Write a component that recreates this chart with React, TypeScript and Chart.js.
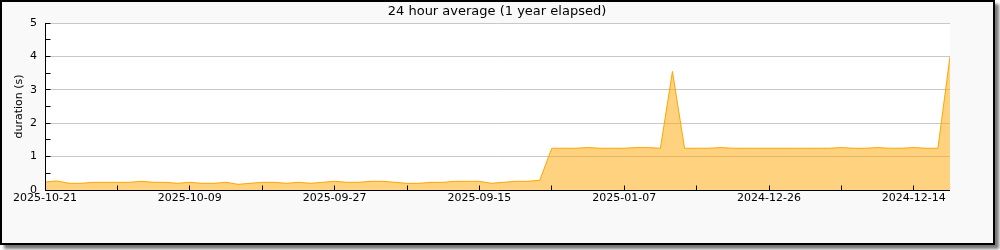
import React, { useEffect, useRef } from 'react';
import { Chart, registerables } from 'chart.js';

Chart.register(...registerables);

const chartTitle = '24 hour average (1 year elapsed)';
const yAxisTitle = 'duration (s)';
const xTickLabels = ['2025-10-21', '2025-10-09', '2025-09-27', '2025-09-15', '2025-01-07', '2024-12-26', '2024-12-14'];
const xLabelEvery = 12;
const xTickEvery = 6;
const yTickValues = [0, 1, 2, 3, 4, 5];

// one value per day, left to right
const durations = [
  0.24, 0.27, 0.2, 0.2, 0.23, 0.23, 0.23, 0.23, 0.26, 0.23,
  0.23, 0.2, 0.23, 0.2, 0.2, 0.23, 0.17, 0.2, 0.23, 0.23,
  0.2, 0.23, 0.2, 0.23, 0.26, 0.23, 0.23, 0.26, 0.26, 0.23,
  0.2, 0.2, 0.23, 0.23, 0.26, 0.26, 0.26, 0.2, 0.23, 0.26,
  0.26, 0.29, 1.25, 1.25, 1.25, 1.27, 1.25, 1.25, 1.25, 1.27,
  1.27, 1.25, 3.55, 1.25, 1.25, 1.25, 1.27, 1.25, 1.25, 1.25,
  1.25, 1.25, 1.25, 1.25, 1.25, 1.25, 1.27, 1.25, 1.25, 1.27,
  1.25, 1.25, 1.27, 1.25, 1.25, 4.0,
];

export default function App() {
  const ref = useRef<HTMLCanvasElement>(null);

  useEffect(() => {
    document.body.style.margin = '0';
    const canvas = ref.current!;
    const points = durations.map((y, i) => ({ x: i, y }));

    const framePlugin = {
      id: 'framePlugin',
      beforeDraw(chart: any) {
        const { ctx, chartArea: a } = chart;
        ctx.save();
        ctx.fillStyle = '#ffffff';
        ctx.fillRect(a.left, a.top, a.right - a.left, a.bottom - a.top);
        ctx.restore();
      },
      afterDatasetsDraw(chart: any) {
        const { ctx, chartArea: a } = chart;
        const xs = chart.scales.x;
        const ys = chart.scales.y;
        ctx.save();
        ctx.strokeStyle = '#000';
        ctx.lineWidth = 1;
        const lx = Math.floor(a.left) + 0.5;
        const by = Math.floor(a.bottom) + 0.5;
        ctx.beginPath();
        ctx.moveTo(lx, Math.floor(a.top));
        ctx.lineTo(lx, by);
        ctx.lineTo(Math.ceil(a.right), by);
        // y ticks (inward)
        ys.ticks.forEach((t: any) => {
          const py = Math.floor(ys.getPixelForValue(t.value)) + 0.5;
          ctx.moveTo(lx, py);
          ctx.lineTo(lx + 5, py);
        });
        // x ticks (inward)
        xs.ticks.forEach((t: any) => {
          if (t.value % xTickEvery !== 0) return;
          const px = Math.floor(xs.getPixelForValue(t.value)) + 0.5;
          ctx.moveTo(px, by);
          ctx.lineTo(px, by - 5);
        });
        ctx.stroke();
        // title
        ctx.fillStyle = '#000';
        ctx.font = '13px "DejaVu Sans"';
        ctx.textAlign = 'center';
        ctx.textBaseline = 'alphabetic';
        ctx.fillText(chartTitle, 497, 15);
        ctx.restore();
      },
    };

    const chart = new Chart(canvas, {
      type: 'line',
      data: {
        datasets: [
          {
            data: points,
            borderColor: '#ffa500',
            backgroundColor: 'rgba(255,165,0,0.5)',
            borderWidth: 1,
            pointRadius: 0,
            fill: 'origin',
            tension: 0,
          },
        ],
      },
      options: {
        animation: false,
        responsive: false,
        devicePixelRatio: 1,
        layout: { padding: { top: 23, right: 50, bottom: 0, left: 0 } },
        font: { family: '"DejaVu Sans"', size: 11 },
        plugins: {
          legend: { display: false },
          title: { display: false },
          tooltip: { enabled: false },
        },
        scales: {
          x: {
            type: 'linear',
            min: 0,
            max: durations.length - 1,
            grid: { display: false, drawTicks: false },
            border: { display: false },
            ticks: {
              stepSize: xTickEvery,
              autoSkip: false,
              maxRotation: 0,
              includeBounds: false,
              padding: 2,
              color: '#000',
              font: { family: '"DejaVu Sans"', size: 11 },
              callback: (v: any) => {
                const n = Number(v);
                return n % xLabelEvery === 0 ? xTickLabels[n / xLabelEvery] ?? '' : '';
              },
            },
            afterFit: (s: any) => {
              s.height = 60;
            },
          },
          y: {
            min: 0,
            max: 5,
            grid: {
              drawTicks: false,
              color: (c: any) => (yTickValues.includes(c.tick?.value) ? '#c8c8c8' : 'rgba(0,0,0,0)'),
            },
            border: { display: false },
            ticks: {
              stepSize: 0.5,
              autoSkip: false,
              padding: 8,
              color: '#000',
              font: { family: '"DejaVu Sans"', size: 11 },
              callback: (v: any) => (yTickValues.includes(Number(v)) ? String(v) : ''),
            },
            title: {
              display: true,
              text: yAxisTitle,
              color: '#000',
              padding: { top: 13, bottom: 0 },
              font: { family: '"DejaVu Sans"', size: 11 },
            },
            afterFit: (s: any) => {
              s.width = 45;
            },
          },
        },
      } as any,
      plugins: [framePlugin],
    });
    return () => chart.destroy();
  }, []);

  return (
    <div style={{ position: 'relative', width: 1000, height: 250 }}>
      <div
        style={{
          position: 'absolute',
          left: 0,
          top: 0,
          width: 995,
          height: 245,
          boxSizing: 'border-box',
          border: '2px solid #000',
          background: '#f9f9f9',
          boxShadow: '4px 4px 3px #777',
        }}
      />
      <canvas
        ref={ref}
        width={1000}
        height={250}
        style={{ position: 'absolute', left: 0, top: 0, width: 1000, height: 250 }}
      />
    </div>
  );
}
